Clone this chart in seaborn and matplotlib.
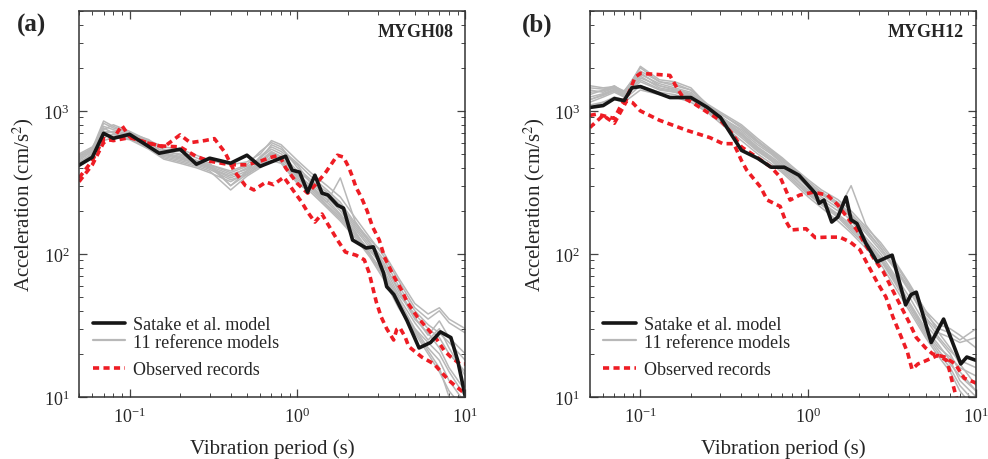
import numpy as np
import pandas as pd
import matplotlib
matplotlib.use("Agg")
import matplotlib.pyplot as plt
from matplotlib.lines import Line2D
import seaborn as sns

# ---- data ----
# common period grid of the 11 reference models
T_ref = [0.05, 0.06, 0.07, 0.08, 0.1, 0.13, 0.16, 0.2, 0.25, 0.3, 0.4, 0.5, 0.6, 0.7,
         0.8, 1.0, 1.2, 1.5, 1.8, 2.2, 2.7, 3.3, 4.0, 5.0, 6.0, 7.0, 8.0, 10.0]

# (a) MYGH08
ref_a = [
    [430, 500, 760, 700, 690, 590, 520, 500, 450, 420, 380, 420, 520, 600, 560, 400, 330, 270, 220, 160, 120, 85, 55, 35, 28, 22, 16, 11],
    [460, 530, 820, 760, 700, 610, 540, 520, 470, 430, 300, 380, 480, 560, 520, 420, 310, 250, 200, 150, 110, 75, 50, 33, 25, 30, 22, 14],
    [480, 550, 700, 720, 660, 570, 500, 470, 430, 400, 350, 400, 450, 520, 480, 350, 300, 240, 190, 145, 100, 70, 45, 30, 22, 18, 13, 9],
    [420, 510, 650, 690, 650, 560, 480, 450, 420, 390, 330, 360, 420, 480, 440, 330, 290, 220, 180, 140, 105, 80, 52, 38, 30, 26, 20, 15],
    [500, 560, 740, 800, 720, 620, 560, 540, 490, 450, 420, 440, 500, 620, 580, 450, 370, 300, 250, 180, 130, 95, 65, 42, 35, 40, 33, 28],
    [440, 490, 680, 660, 640, 550, 470, 440, 410, 380, 280, 350, 400, 450, 430, 310, 270, 210, 170, 130, 95, 65, 42, 28, 20, 15, 11, 8],
    [410, 470, 620, 650, 630, 540, 460, 430, 400, 370, 320, 370, 430, 500, 460, 360, 300, 230, 340, 170, 120, 90, 60, 40, 32, 28, 24, 18],
    [470, 540, 780, 740, 680, 600, 510, 480, 440, 410, 360, 390, 470, 540, 500, 380, 320, 260, 210, 155, 115, 82, 57, 36, 27, 34, 26, 20],
    [450, 520, 720, 710, 670, 580, 490, 460, 430, 400, 340, 380, 440, 510, 470, 340, 290, 230, 185, 140, 100, 72, 48, 30, 24, 20, 15, 10],
    [490, 545, 850, 780, 700, 630, 530, 490, 450, 420, 370, 410, 460, 580, 540, 430, 350, 280, 230, 165, 125, 100, 68, 45, 38, 42, 35, 30],
    [435, 505, 690, 680, 660, 570, 500, 470, 440, 410, 300, 360, 410, 470, 450, 320, 280, 215, 175, 135, 98, 68, 44, 29, 21, 16, 10, 7],
]
T_sat_a = [0.05, 0.06, 0.07, 0.08, 0.1, 0.15, 0.2, 0.25, 0.3, 0.4, 0.5, 0.6, 0.85, 0.93, 1.03,
           1.15, 1.27, 1.4, 1.52, 1.73, 1.88, 2.13, 2.56, 2.83, 3.25, 3.4, 3.75, 4.5, 5.3, 6.2,
           7.1, 8.2, 9.0, 10.0]
A_sat_a = [417, 474, 697, 643, 686, 506, 540, 424, 467, 431, 490, 410, 482, 385, 373,
           270, 355, 266, 258, 219, 209, 125, 110, 112, 74, 59, 52, 34, 22, 24,
           28.5, 26, 18, 10]
T_obs1_a = [0.05, 0.06, 0.07, 0.08, 0.09, 0.1, 0.125, 0.16, 0.2, 0.23, 0.28, 0.32, 0.37, 0.42,
            0.49, 0.55, 0.65, 0.72, 0.83, 0.96, 1.06, 1.15, 1.27, 1.4, 1.5, 1.73, 1.93, 2.23,
            2.5, 2.67, 2.95, 3.16, 3.4, 3.74, 3.9, 4.07, 4.37, 4.6, 5.5, 6.5, 8.0, 9.5, 10.0]
A_obs1_a = [320, 420, 600, 640, 790, 660, 600, 560, 680, 600, 620, 640, 513, 380,
            300, 280, 318, 305, 344, 270, 230, 196, 167, 190, 165, 125, 103, 98,
            91, 74, 46, 36, 30, 25, 29.6, 30.5, 26.4, 22.5, 19, 17, 13, 11, 10.5]
T_obs2_a = [0.05, 0.06, 0.07, 0.08, 0.1, 0.15, 0.2, 0.25, 0.3, 0.4, 0.5, 0.6, 0.7, 0.78,
            0.85, 1.0, 1.15, 1.27, 1.46, 1.73, 1.88, 2.02, 2.13, 2.23, 2.4, 2.6, 2.8, 3.07,
            3.3, 3.74, 4.2, 4.5, 5.2, 5.95, 6.8, 7.5, 8.2, 9.3, 10.0]
A_obs2_a = [340, 450, 640, 620, 650, 570, 560, 480, 445, 420, 420, 445, 475, 490,
            400, 310, 266, 302, 366, 490, 475, 404, 344, 293, 249, 200, 155, 125,
            95, 70, 55, 46, 36, 30, 25, 21, 19, 17, 17]

# (b) MYGH12
ref_b = [
    [1200, 1300, 1400, 1250, 1700, 1500, 1400, 1300, 1050, 900, 700, 560, 480, 420, 380, 300, 250, 210, 170, 130, 100, 70, 50, 32, 25, 20, 15, 11],
    [1400, 1350, 1450, 1300, 2050, 1650, 1600, 1450, 1100, 950, 780, 620, 520, 450, 400, 320, 270, 230, 190, 150, 110, 80, 58, 38, 30, 28, 25, 30],
    [1100, 1150, 1250, 1200, 1500, 1350, 1300, 1200, 1000, 850, 650, 520, 450, 380, 330, 260, 220, 180, 145, 115, 90, 62, 42, 27, 20, 16, 12, 9],
    [1300, 1400, 1500, 1350, 1800, 1550, 1450, 1350, 1080, 920, 720, 580, 500, 430, 370, 290, 240, 200, 300, 160, 115, 85, 60, 40, 32, 30, 27, 22],
    [1150, 1250, 1350, 1250, 1600, 1400, 1350, 1250, 1020, 870, 680, 540, 460, 400, 350, 280, 230, 190, 160, 125, 95, 68, 46, 30, 23, 18, 13, 10],
    [1500, 1450, 1480, 1380, 1900, 1600, 1500, 1400, 1120, 980, 800, 640, 540, 470, 410, 330, 280, 240, 200, 155, 120, 88, 62, 40, 28, 22, 17, 12],
    [1250, 1320, 1420, 1300, 1750, 1450, 1380, 1280, 1040, 880, 690, 550, 470, 410, 360, 270, 230, 185, 150, 120, 92, 66, 45, 29, 22, 19, 16, 14],
    [1050, 1150, 1200, 1150, 1400, 1300, 1250, 1150, 980, 820, 620, 500, 430, 370, 320, 250, 210, 170, 140, 110, 85, 58, 40, 26, 19, 15, 11, 8],
    [1350, 1380, 1460, 1320, 1850, 1500, 1420, 1320, 1060, 900, 740, 600, 510, 440, 390, 310, 260, 220, 180, 140, 105, 78, 55, 36, 28, 26, 24, 26],
    [1200, 1280, 1380, 1280, 1650, 1420, 1360, 1260, 1030, 860, 670, 530, 450, 390, 340, 265, 225, 185, 155, 122, 93, 64, 44, 28, 21, 17, 14, 11],
    [1450, 1420, 1470, 1360, 2000, 1600, 1550, 1400, 1100, 960, 760, 610, 530, 460, 400, 320, 265, 225, 185, 145, 110, 80, 56, 35, 26, 21, 18, 16],
]
T_sat_b = [0.05, 0.06, 0.07, 0.08, 0.089, 0.1, 0.15, 0.2, 0.25, 0.3, 0.4, 0.5, 0.6, 0.72,
           0.88, 1.1, 1.16, 1.24, 1.38, 1.5, 1.68, 1.8, 1.95, 2.2, 2.57, 2.9, 3.16, 3.8,
           4.1, 4.4, 5.4, 6.4, 8.1, 8.8, 10.0]
A_sat_b = [1057, 1090, 1220, 1180, 1450, 1480, 1240, 1240, 1060, 900, 530, 466, 404, 404,
           355, 266, 226, 238, 167, 181, 250, 173, 163, 119, 88, 94, 98, 44,
           52, 54, 24, 35, 17, 19, 18]
T_obs1_b = [0.05, 0.055, 0.07, 0.075, 0.085, 0.093, 0.1, 0.125, 0.15, 0.165, 0.18, 0.21, 0.25,
            0.3, 0.35, 0.4, 0.5, 0.6, 0.68, 0.78, 0.89, 1.07, 1.3, 1.5, 1.7, 1.95, 2.2, 2.5,
            2.8, 3.2, 3.6, 4.0, 4.4, 5.0, 5.5, 6.5, 7.5, 8.5, 10.0]
A_obs1_b = [930, 950, 885, 1040, 1320, 1720, 1830, 1800, 1770, 1450, 1240, 1120, 980,
            860, 700, 560, 470, 404, 345, 238, 258, 270, 258, 220, 181, 147, 115, 90,
            75, 55, 42, 33, 26, 22, 20, 19, 17, 13.5, 12.5]
T_obs2_b = [0.05, 0.06, 0.07, 0.083, 0.09, 0.1, 0.13, 0.19, 0.26, 0.31, 0.36, 0.4, 0.43, 0.52,
            0.57, 0.68, 0.73, 0.79, 0.97, 1.1, 1.3, 1.54, 1.78, 2.03, 2.3, 2.6, 2.9, 3.2,
            3.5, 3.9, 4.15, 4.5, 4.9, 5.9, 6.7, 7.3, 7.8]
A_obs2_b = [765, 930, 820, 1180, 1140, 1000, 860, 730, 650, 590, 590, 450, 385, 293,
            238, 215, 172, 147, 150, 130, 131, 131, 121, 107, 81, 62, 50, 36,
            28, 20.5, 15.6, 17, 17.7, 19.5, 18, 12, 9]

panels = [
    ("(a)", "MYGH08", ref_a, T_sat_a, A_sat_a, [(T_obs1_a, A_obs1_a), (T_obs2_a, A_obs2_a)]),
    ("(b)", "MYGH12", ref_b, T_sat_b, A_sat_b, [(T_obs1_b, A_obs1_b), (T_obs2_b, A_obs2_b)]),
]

sns.set_style("ticks")
plt.rcParams["font.family"] = ["Liberation Serif", "DejaVu Serif"]
plt.rcParams["mathtext.fontset"] = "stix"

GRAY = "#b8b8b8"
RED = "#ee1c24"
BLACK = "#161616"
DASH = (0, (1.7, 1.2))

fig = plt.figure(figsize=(9.88, 4.6), dpi=100)
lefts = [0.080, 0.597]
fig_letters_x = [17 / 988, 522 / 988]

for i, (letter, station, refs, T_sat, A_sat, obs) in enumerate(panels):
    ax = fig.add_axes([lefts[i], 0.135, 0.391, 0.839])

    ref_df = pd.DataFrame({
        "T": T_ref * len(refs),
        "A": [v for r in refs for v in r],
        "model": [k for k in range(len(refs)) for _ in T_ref],
    })
    obs_df = pd.DataFrame({
        "T": [t for tt, aa in obs for t in tt],
        "A": [a for tt, aa in obs for a in aa],
        "rec": [k for k, (tt, aa) in enumerate(obs) for _ in tt],
    })
    sat_df = pd.DataFrame({"T": T_sat, "A": A_sat})

    sns.lineplot(data=ref_df, x="T", y="A", units="model", estimator=None,
                 color=GRAY, lw=1.1, ax=ax, legend=False)
    sns.lineplot(data=obs_df, x="T", y="A", units="rec", estimator=None,
                 color=RED, lw=2.6, linestyle=DASH, ax=ax, legend=False)
    sns.lineplot(data=sat_df, x="T", y="A", color=BLACK, lw=2.6, ax=ax)

    ax.set_xscale("log")
    ax.set_yscale("log")
    ax.set_xlim(0.05, 10)
    ax.set_ylim(10, 5000)
    ax.set_xlabel("Vibration period (s)", fontsize=15, labelpad=9)
    ax.set_ylabel("Acceleration (cm/s$^2$)", fontsize=15, labelpad=5)
    ax.tick_params(which="both", direction="in", top=True, right=True,
                   labelsize=13, pad=7, color="#444444")
    ax.tick_params(which="major", length=6, width=0.9)
    ax.tick_params(which="minor", length=3, width=0.7)
    for sp in ax.spines.values():
        sp.set_color("#333333")
        sp.set_linewidth(1.1)

    ax.text(0.969, 0.946, station, transform=ax.transAxes, ha="right", va="center",
            fontsize=13, fontweight="bold")
    fig.text(fig_letters_x[i], 1 - 25 / 460, letter, ha="left", va="center",
             fontsize=18, fontweight="bold")

    h1 = [Line2D([], [], color=BLACK, lw=2.6), Line2D([], [], color=GRAY, lw=1.6)]
    leg1 = ax.legend(h1, ["Satake et al. model", "11 reference models"],
                     loc="upper left", bbox_to_anchor=(0.035, 0.21), frameon=False,
                     fontsize=13, handlelength=1.8, handletextpad=0.45,
                     labelspacing=0.05, borderpad=0, borderaxespad=0)
    ax.add_artist(leg1)
    h2 = [Line2D([], [], color=RED, lw=2.6, linestyle=DASH)]
    ax.legend(h2, ["Observed records"], loc="upper left", bbox_to_anchor=(0.035, 0.092),
              frameon=False, fontsize=13, handlelength=1.8, handletextpad=0.45,
              borderpad=0, borderaxespad=0)

fig.savefig("out.png", dpi=100)
